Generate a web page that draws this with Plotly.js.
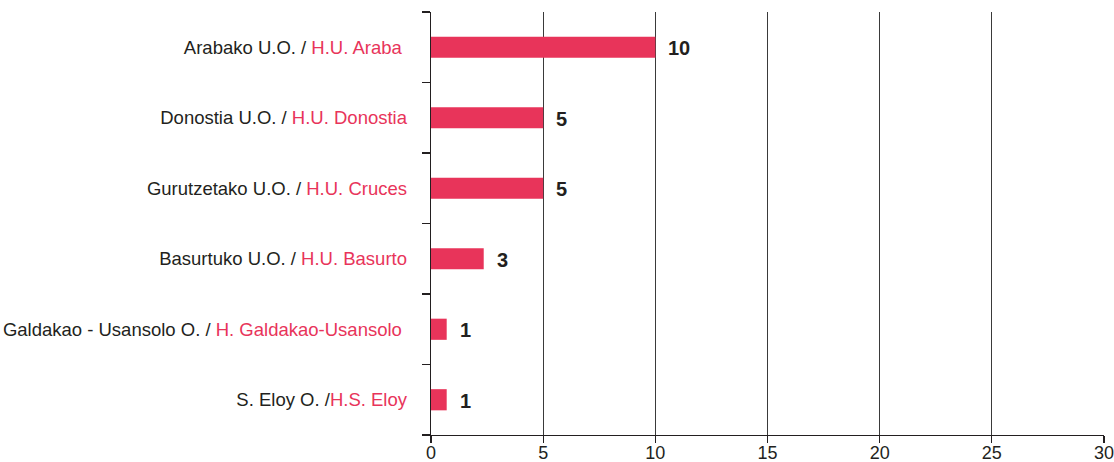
<!DOCTYPE html>
<html>
<head>
<meta charset="utf-8">
<script src="https://cdn.plot.ly/plotly-3.0.1.min.js"></script>
<style>
html,body{margin:0;padding:0;background:#fff;}
#chart{width:1114px;height:462px;}
</style>
</head>
<body>
<div id="chart"></div>
<script>
// Category labels: black part / red part
const unitNames = ["Arabako U.O. / ", "Donostia U.O. / ", "Gurutzetako U.O. / ", "Basurtuko U.O. / ", "Galdakao - Usansolo O. / ", "S. Eloy O. /"];
const hospitalNames = ["H.U. Araba ", "H.U. Donostia", "H.U. Cruces", "H.U. Basurto", "H. Galdakao-Usansolo ", "H.S. Eloy"];
// Bar lengths as drawn in the picture
const barLengths = [10, 5, 5, 2.35, 0.7, 0.7];
// Value labels printed next to the bars
const valueLabels = ["10", "5", "5", "3", "1", "1"];
const xTicks = [0, 5, 10, 15, 20, 25, 30];

const RED = "#E8345A";
const DARK = "#231F20";

const cats = unitNames.map((u, i) => "c" + i);
const tickText = unitNames.map((u, i) => u + '<span style="color:' + RED + '">' + hospitalNames[i] + '</span>');

const trace = {
  type: "bar",
  orientation: "h",
  x: barLengths,
  y: cats,
  marker: {color: RED, line: {width: 0}},
  hoverinfo: "skip"
};

const annotations = cats.map((c, i) => ({
  x: barLengths[i], y: c, xref: "x", yref: "y",
  text: "<b>" + valueLabels[i] + "</b>",
  showarrow: false, xanchor: "left", yanchor: "middle",
  xshift: 11, yshift: -1,
  font: {family: "Liberation Sans, Arial, sans-serif", size: 20, color: DARK}
}));

const layout = {
  width: 1114, height: 462,
  margin: {l: 430.5, r: 9.5, t: 12, b: 27, pad: 0},
  paper_bgcolor: "#fff", plot_bgcolor: "#fff",
  showlegend: false,
  bargap: 0.70,
  font: {family: "Liberation Sans, Arial, sans-serif", size: 18, color: DARK},
  xaxis: {
    range: [0, 30],
    tickvals: xTicks,
    ticktext: xTicks.map(String),
    ticks: "outside", ticklen: 7, tickwidth: 1.3, tickcolor: DARK,
    showgrid: true, gridcolor: "#3a3a3a", gridwidth: 1,
    showline: true, linecolor: DARK, linewidth: 1.3,
    zeroline: false, automargin: false,
    ticklabelstandoff: -6,
    ticklabeloverflow: "allow",
    tickfont: {size: 18, color: DARK}
  },
  yaxis: {
    type: "category",
    categoryorder: "array", categoryarray: cats,
    tickvals: cats, ticktext: tickText,
    range: [5.5, -0.5],
    tickson: "boundaries",
    ticks: "outside", ticklen: 8, tickwidth: 1.3, tickcolor: DARK,
    showgrid: false, showline: true, linecolor: DARK, linewidth: 1.3,
    zeroline: false, automargin: false,
    ticklabelstandoff: 19,
    ticklabeloverflow: "allow",
    tickfont: {size: 18.5, color: DARK}
  },
  annotations: annotations
};

Plotly.newPlot("chart", [trace], layout, {displayModeBar: false, staticPlot: true});
</script>
</body>
</html>
